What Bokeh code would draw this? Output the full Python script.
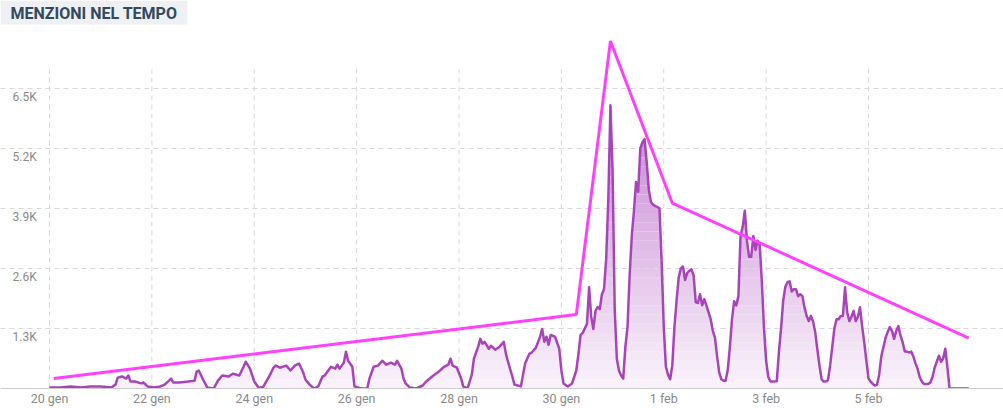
import numpy as np
from bokeh.plotting import figure
from bokeh.models import FixedTicker, Range1d, Label
from bokeh.core.properties import value
from bokeh.embed import file_html
from bokeh.resources import INLINE

# Mentions per hour, hours counted from 20 gen 00:00
hours = [0, 5, 10, 15, 19, 24, 29, 31, 32, 34, 36, 37, 38, 40, 43, 44, 46, 49, 52, 54,
         57, 58, 61, 65, 68, 69, 70, 72, 74, 77, 79, 81, 84, 86, 89, 91, 92, 94, 96, 98,
         100, 103, 105, 106, 108, 111, 113, 115, 117, 119, 120, 122, 124, 126, 128, 129,
         132, 134, 135, 136, 138, 139, 140, 142, 143, 146, 149, 150, 152, 154, 156, 158,
         160, 162, 163, 165, 166, 167, 169, 172, 175, 177, 180, 182, 185, 187, 188, 189,
         191, 193, 194, 196, 198, 199, 201, 202, 203, 204, 206, 207, 209, 211, 213, 214,
         215, 217, 218, 221, 223, 225, 226, 228, 230, 231, 232, 233, 234, 235, 237, 239,
         240, 241, 243, 245, 247, 248, 249, 250, 252, 253, 254, 255, 256, 257, 258, 259,
         260, 261, 262, 263, 264, 265, 266, 267, 268, 269, 270, 271, 272, 273, 274, 275,
         276, 277, 278, 279, 280, 281, 282, 283, 284, 285, 286, 287, 288, 289, 290, 291,
         292, 293, 294, 295, 296, 297, 298, 299, 300, 301, 302, 303, 304, 305, 306, 307,
         308, 309, 310, 311, 312, 313, 314, 315, 316, 317, 318, 319, 320, 321, 322, 323,
         324, 325, 326, 327, 328, 329, 330, 331, 332, 333, 334, 335, 336, 337, 338, 340,
         341, 342, 343, 344, 345, 346, 347, 348, 349, 350, 351, 352, 353, 354, 355, 356,
         357, 358, 359, 360, 361, 362, 363, 364, 365, 366, 367, 368, 369, 370, 371, 372,
         373, 374, 375, 376, 377, 378, 379, 380, 381, 382, 383, 384, 385, 386, 387, 388,
         389, 390, 391, 392, 393, 394, 395, 396, 397, 398, 399, 400, 401, 402, 403, 404,
         405, 406, 407, 408, 409, 410, 412, 413, 414, 415, 416, 417, 418, 419, 420, 421,
         422, 431]
mentions = [20, 20, 45, 20, 45, 45, 20, 85, 235, 260, 215, 280, 150, 150, 110, 130, 45, 20, 45, 85,
            215, 130, 130, 150, 170, 365, 390, 195, 20, 0, 170, 280, 260, 320, 280, 470, 580, 430, 150, 20,
            20, 260, 450, 495, 450, 495, 390, 495, 540, 345, 195, 85, 0, 45, 260, 280,
            470, 430, 515, 430, 560, 795, 600, 470, 45, 0, 0, 215, 470, 495, 600, 515,
            560, 515, 600, 430, 215, 110, 20, 0, 65, 170, 280, 345, 470, 515, 645, 495,
            450, 215, 45, 0, 300, 645, 905, 1075, 970, 1010, 860, 925, 840, 905, 1010, 750,
            580, 260, 85, 45, 540, 750, 775, 880, 1120, 1290, 1010, 1120, 945, 1160, 1120, 860,
            390, 110, 45, 110, 390, 750, 1160, 1205, 1400, 2190, 1550, 1290, 1680, 1765, 1720, 2040,
            2150, 2800, 4085, 6130, 4730, 1720, 645, 390, 280, 215, 900, 1330, 2450, 3300, 3830, 4470,
            4260, 5200, 5330, 5400, 4900, 4300, 4040, 3980, 3950, 3930, 3900, 2750, 1330, 470, 300, 200,
            500, 1330, 1900, 2400, 2600, 2640, 2350, 2500, 2550, 2580, 2450, 1870, 1850, 2040, 1800, 1935,
            1800, 1650, 1500, 1250, 1100, 700, 350, 200, 170, 170, 400, 900, 1500, 1890, 1800, 2000,
            3300, 3500, 3850, 3200, 2850, 2850, 3300, 3000, 3200, 3100, 2300, 1300, 600, 250, 150, 150,
            160, 800, 1300, 1900, 2200, 2300, 2320, 2100, 2150, 2150, 2000, 2040, 2000, 1750, 1570, 1460,
            1570, 1450, 1225, 850, 500, 200, 150, 150, 180, 500, 900, 1300, 1500, 1500, 1570, 1570,
            2190, 1650, 1460, 1550, 1680, 1460, 1550, 1760, 1350, 1000, 600, 215, 150, 100, 65, 80,
            300, 700, 900, 1100, 1225, 1330, 1250, 1075, 1250, 1350, 1150, 1000, 800, 800, 780, 800,
            700, 550, 430, 250, 150, 100, 100, 130, 250, 450, 580, 710, 580, 650, 860, 450,
            0, 0]

# Hand-drawn trend line (hours from 20 gen, mentions)
trend_hours = [2, 247, 263, 292, 431]
trend_values = [215, 1600, 7525, 4015, 1090]

# Axis ticks
x_tick_days = [0, 2, 4, 6, 8, 10, 12, 14, 16]
x_tick_labels = ["20 gen", "22 gen", "24 gen", "26 gen", "28 gen", "30 gen", "1 feb", "3 feb", "5 feb"]
y_ticks = [1300, 2600, 3900, 5200, 6500]
y_tick_labels = ["1.3K", "2.6K", "3.9K", "5.2K", "6.5K"]

FONT = "Roboto"
LINE = "#a844ba"
GRID = "#d9d9d9"
LABEL = "#8a8a8a"

days = np.array(hours, dtype=float) / 24.0
vals = np.array(mentions, dtype=float)
t_days = np.array(trend_hours, dtype=float) / 24.0

X0, X1 = -0.957, 18.637
Y_END = 8400
p = figure(width=1003, height=408, output_backend="svg", toolbar_location=None,
           x_range=Range1d(X0, X1), y_range=Range1d(0, Y_END),
           min_border_left=0, min_border_right=0, min_border_top=0, min_border_bottom=0)
p.outline_line_color = None
p.background_fill_color = "white"

# axes
p.yaxis.visible = False
xa = p.xaxis[0]
xa.ticker = FixedTicker(ticks=x_tick_days)
xa.major_label_overrides = {d: l for d, l in zip(x_tick_days, x_tick_labels)}
xa.axis_line_color = "#cccccc"
xa.axis_line_width = 1
xa.major_tick_line_color = None
xa.minor_tick_line_color = None
xa.major_tick_out = 0
xa.major_tick_in = 0
xa.minor_tick_out = 0
xa.minor_tick_in = 0
xa.major_label_text_font = FONT
xa.major_label_text_font_size = "12.5px"
xa.major_label_text_color = LABEL
xa.major_label_text_line_height = 1.0
xa.major_label_standoff = 2

p.xgrid.visible = False
p.ygrid.ticker = FixedTicker(ticks=y_ticks)
p.ygrid.grid_line_color = GRID
p.ygrid.grid_line_dash = "5 4"

# vertical dashed grid lines (stop below the top like the original)
GRID_TOP = 6920
p.segment(x0=x_tick_days, y0=[0] * len(x_tick_days), x1=x_tick_days, y1=[GRID_TOP] * len(x_tick_days),
          line_color=GRID, line_dash="5 4", line_width=1)

# y tick labels inside the plot area
p.text(x=[X0] * len(y_ticks), y=y_ticks, text=y_tick_labels, x_offset=12, y_offset=2,
       text_baseline="top", text_align="left", text_font=value(FONT),
       text_font_size="12px", text_color=LABEL)

# vertical gradient fill under the series (bands of increasing opacity)
levels = np.linspace(0, 7000, 36)
base_rgb = np.array([171, 71, 188])
for lo, hi in zip(levels[:-1], levels[1:]):
    mid = (lo + hi) / 2
    a = min(0.06 + 0.1 * mid / 1000.0, 0.7)
    c = 255 - a * (255 - base_rgb)
    col = "#%02x%02x%02x" % tuple(int(round(v)) for v in c)
    p.varea(x=days, y1=np.minimum(vals, lo), y2=np.minimum(vals, hi), fill_color=col)

p.line(days, vals, line_color=LINE, line_width=2.5, line_join="round")
p.line(t_days, trend_values, line_color="#ff40ff", line_width=3)

title = Label(x=X0, y=Y_END, text="MENZIONI NEL TEMPO", text_font=FONT, text_font_style="bold",
              text_font_size="16px", text_color="#34495e", text_baseline="top", text_align="left",
              background_fill_color="#eef0f3", padding=dict(left=10, right=10, top=3, bottom=2))
p.add_layout(title)

open("out.html", "w").write(file_html(p, INLINE))
